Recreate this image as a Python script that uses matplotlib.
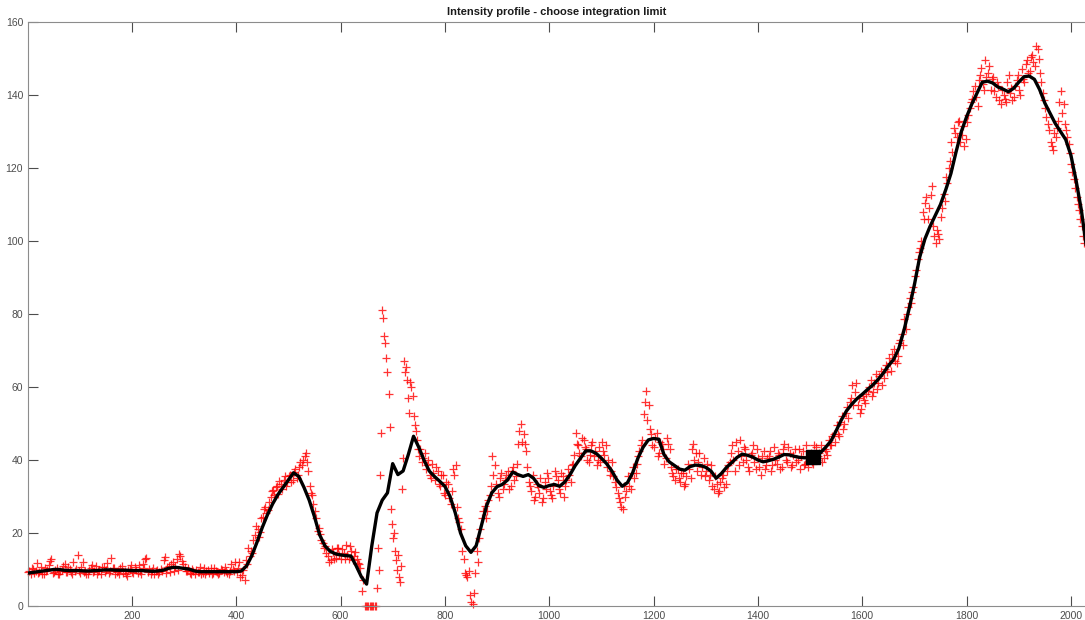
import numpy as np
import matplotlib
matplotlib.use("Agg")
import matplotlib.pyplot as plt

plt.rcParams["font.family"] = ["Liberation Sans", "DejaVu Sans"]

# Smoothed intensity profile, sampled every 10 px from x = 0
smooth_start, smooth_step = 0, 10
smooth_vals = [
    9.0, 9.2, 9.4, 9.6, 9.8, 10.0, 10.0, 9.8, 9.7, 9.7,
    9.7, 9.6, 9.6, 9.7, 9.8, 9.9, 9.9, 9.8, 9.8, 9.8,
    9.7, 9.7, 9.7, 9.6, 9.5, 9.6, 9.8, 10.3, 10.6, 10.5,
    10.3, 10.1, 9.6, 9.4, 9.4, 9.4, 9.4, 9.4, 9.4, 9.4,
    9.4, 9.6, 11.0, 13.8, 17.5, 21.5, 25.0, 28.0, 30.5, 32.5,
    34.5, 36.5, 35.5, 32.5, 29.0, 24.5, 19.5, 16.5, 15.0, 14.3,
    14.0, 13.8, 13.7, 11.0, 8.0, 6.0, 16.5, 25.5, 29.0, 31.0,
    39.0, 36.0, 37.0, 41.5, 46.5, 43.5, 40.0, 37.0, 35.5, 34.2,
    32.8, 30.0, 25.5, 20.0, 16.5, 14.7, 16.5, 22.0, 27.5, 31.0,
    32.7, 33.3, 34.5, 36.7, 36.0, 35.5, 36.0, 35.0, 33.0, 32.5,
    33.0, 33.3, 32.8, 34.0, 36.0, 38.5, 40.5, 42.5, 42.5, 41.8,
    40.5, 39.0, 37.0, 34.5, 32.8, 33.8, 36.5, 40.5, 43.5, 45.5,
    45.9, 45.7, 41.5, 39.5, 38.5, 37.5, 37.2, 38.2, 38.6, 38.5,
    38.0, 37.0, 35.0, 36.3, 38.0, 39.3, 40.7, 41.6, 41.3, 40.8,
    40.0, 39.5, 39.8, 40.2, 40.8, 41.5, 41.4, 41.0, 40.7, 40.6,
    40.7, 41.2, 42.0, 43.5, 45.2, 48.0, 51.0, 53.5, 55.3, 56.8,
    58.0, 59.3, 60.5, 62.0, 63.7, 65.8, 67.5, 70.5, 75.5, 81.5,
    88.0, 95.5, 100.5, 104.0, 107.0, 110.0, 114.0, 118.5, 124.5, 130.0,
    134.0, 137.5, 140.5, 143.5, 143.8, 143.3, 142.2, 141.6, 140.9, 141.8,
    143.5, 145.0, 145.2, 144.3, 141.5, 137.8, 135.0, 132.2, 130.0, 127.8,
    123.5, 116.5, 108.5, 98.0,
]

# Raw intensity samples, left part (x = 1, 6, ..., 666)
raw_left_start, raw_left_step = 1, 5
raw_left = [
    9.2, 8.8, 10.1, 9.5, 9.0, 10.8, 8.9, 9.6, 11.2, 12.8, 9.3, 10.5, 8.7, 9.9, 11.5, 9.4, 10.2, 8.9, 9.7, 14.0,
    9.1, 12.1, 9.6, 8.8, 10.4, 9.2, 11.0, 9.5, 8.9, 10.6, 9.8, 9.0, 13.2, 10.3, 9.4, 8.8, 10.9, 9.6, 8.3, 10.2,
    9.4, 10.8, 9.0, 9.7, 11.6, 12.9, 9.3, 8.9, 10.5, 9.6, 8.8, 10.2, 12.5, 9.1, 10.9, 11.4, 9.5, 13.0, 14.2, 12.3,
    10.6, 9.5, 9.0, 10.1, 8.8, 9.4, 10.7, 9.1, 8.9, 9.8, 10.4, 9.0, 9.6, 8.8, 10.2, 9.3, 9.7, 8.9, 11.4, 9.5,
    9.2, 12.1, 8.5, 7.2, 11.5, 13.8, 14.5, 19.5, 21.0, 20.2, 24.5, 27.0, 26.2, 29.8, 31.9, 32.5, 30.7, 33.5, 34.6, 32.8,
    35.5, 33.9, 36.8, 35.2, 38.0, 38.5, 41.2, 39.5, 33.0, 30.5, 26.0, 20.5, 19.8, 17.2, 16.5, 13.8, 12.5, 14.9, 13.2, 15.8,
    12.8, 14.5, 16.8, 13.0, 15.2, 13.6, 12.9, 11.5, 4.0, 0.0, 0.0, 0.0, 0.0, 0.0,
]

# Interleaved raw samples, left part (x = 3, 8, ..., 663)
raw_left_b_start, raw_left_b_step = 3, 5
raw_left_b = [
    9.6, 10.3, 9.0, 11.8, 9.4, 8.9, 10.5, 9.8, 12.2, 9.1, 10.0, 8.8, 9.7, 11.0, 9.3, 10.6, 9.2, 12.0, 10.1, 9.5,
    10.7, 9.3, 8.9, 10.0, 11.3, 9.7, 8.8, 9.9, 10.8, 9.2, 11.8, 9.5, 10.4, 8.9, 9.6, 10.5, 9.1, 8.7, 9.8, 11.1,
    9.0, 9.9, 11.2, 8.9, 10.3, 13.1, 10.1, 9.5, 8.8, 10.0, 9.4, 9.7, 13.4, 10.6, 9.2, 12.0, 11.0, 9.8, 13.6, 11.5,
    9.7, 10.3, 8.8, 9.5, 10.0, 9.2, 8.9, 10.5, 9.6, 9.1, 8.8, 10.3, 9.4, 9.0, 9.8, 10.6, 9.1, 9.5, 10.2, 12.0,
    10.4, 8.0, 10.0, 12.5, 16.0, 15.0, 18.0, 22.0, 19.0, 24.0, 26.5, 25.5, 28.5, 31.5, 30.5, 33.0, 34.2, 32.0, 35.5, 34.0,
    36.0, 34.5, 37.5, 36.0, 39.5, 40.0, 42.0, 37.0, 31.0, 28.0, 24.0, 21.5, 18.0, 16.0, 14.5, 12.0, 15.5, 13.0, 16.0, 14.0,
    15.5, 13.0, 14.0, 16.5, 12.5, 14.8, 11.8, 10.5, 7.0, 0.0, 0.0, 0.0, 0.0,
]

# Raw intensity samples around the bright streaks (x = 668, 670, ..., 748)
raw_mid_start, raw_mid_step = 668, 2
raw_mid = [
    0.0, 5.0, 16.0, 10.0, 36.0, 47.5, 81.0, 79.0, 74.0, 72.0,
    68.0, 64.0, 58.0, 49.0, 26.5, 22.5, 18.5, 20.0, 15.0, 12.5,
    10.0, 14.0, 8.0, 6.5, 11.0, 32.0, 40.5, 67.0, 64.0, 65.5,
    62.0, 57.0, 53.0, 61.5, 60.0, 57.5, 52.0, 49.5, 48.0, 45.5,
    43.0,
]

# Raw intensity samples, right part (x = 751, 756, ..., 2026)
raw_right_start, raw_right_step = 751, 5
raw_right = [
    41.2, 39.5, 42.0, 38.5, 36.0, 39.0, 34.5, 37.0, 33.0, 35.8, 30.5, 33.5, 28.0, 37.5, 38.5, 24.0, 21.0, 13.0, 8.5, 9.5,
    1.0, 3.5, 15.0, 18.5, 24.0, 27.5, 26.0, 30.5, 41.0, 38.5, 31.0, 35.0, 32.0, 34.5, 37.0, 33.0, 38.0, 35.5, 44.5, 50.0,
    47.0, 42.5, 34.0, 31.5, 29.0, 33.5, 31.0, 28.5, 34.0, 36.5, 31.5, 29.5, 37.0, 34.5, 31.0, 35.5, 33.0, 37.5, 34.0, 39.0,
    47.5, 44.0, 41.0, 45.5, 43.0, 39.5, 44.0, 41.0, 38.5, 43.5, 45.0, 41.5, 38.0, 36.0, 39.5, 34.0, 31.0, 28.5, 26.5, 30.0,
    35.5, 32.0, 38.0, 36.5, 41.0, 44.0, 52.5, 59.0, 55.0, 47.0, 43.5, 47.5, 42.0, 44.5, 39.0, 46.0, 43.0, 36.5, 34.5, 37.5,
    34.0, 36.5, 33.5, 39.0, 35.0, 44.5, 42.0, 39.5, 36.0, 40.5, 37.0, 34.5, 38.5, 32.0, 33.5, 31.5, 35.0, 32.5, 37.0, 39.5,
    44.0, 37.0, 42.5, 45.5, 39.5, 43.0, 38.0, 41.5, 44.0, 37.5, 40.5, 36.0, 42.5, 38.5, 41.0, 37.0, 43.5, 39.0, 41.5, 38.0,
    44.5, 39.5, 42.0, 38.5, 43.0, 40.0, 37.5, 42.5, 39.0, 38.0, 42.0, 39.0, 43.5, 41.0, 44.0, 40.5, 42.5, 45.5, 44.0, 47.0,
    49.5, 46.5, 52.0, 50.0, 54.5, 56.0, 60.5, 58.5, 55.0, 53.0, 57.5, 55.5, 59.0, 62.0, 58.5, 63.5, 61.0, 64.5, 62.5, 66.0,
    68.0, 64.5, 70.5, 66.5, 72.0, 74.5, 78.5, 80.0, 84.5, 86.0, 90.5, 95.0, 98.0, 108.0, 110.5, 106.0, 112.5, 104.0, 99.5, 102.0,
    106.5, 113.0, 117.5, 120.0, 127.0, 131.0, 128.5, 133.0, 129.0, 126.0, 132.5, 136.5, 139.0, 142.5, 137.0, 145.5, 143.0, 149.5, 146.0, 141.5,
    145.0, 139.5, 142.5, 137.5, 140.0, 138.0, 145.5, 142.0, 139.5, 144.0, 141.5, 147.0, 143.5, 149.5, 146.5, 151.0, 148.0, 152.5, 146.0, 140.5,
    136.5, 132.0, 127.0, 125.0, 128.5, 133.0, 141.0, 137.5, 130.5, 126.5, 121.0, 117.0, 112.0, 108.5, 104.0, 99.5,
]

# Interleaved raw samples, right part (x = 753, 758, ..., 2023)
raw_right_b_start, raw_right_b_step = 753, 5
raw_right_b = [
    43.0, 40.5, 37.5, 40.0, 35.0, 36.5, 38.0, 33.5, 36.0, 31.0, 34.0, 29.5, 31.5, 36.0, 27.0, 23.0, 15.0, 9.0, 8.0, 3.0,
    0.5, 9.0, 12.0, 21.0, 26.0, 24.0, 29.0, 33.0, 36.0, 33.5, 30.0, 36.5, 33.5, 36.0, 32.0, 37.0, 34.5, 39.0, 48.0, 45.0,
    44.5, 38.0, 33.0, 36.0, 30.0, 32.5, 35.0, 29.5, 32.0, 35.0, 30.5, 33.0, 35.5, 32.0, 36.5, 30.0, 34.5, 36.0, 38.5, 41.5,
    44.5, 42.0, 46.0, 43.5, 40.0, 41.5, 45.0, 42.5, 40.0, 39.5, 42.5, 44.0, 40.0, 37.0, 35.5, 32.5, 29.5, 27.0, 33.0, 31.5,
    33.0, 36.5, 35.0, 39.0, 42.5, 45.5, 56.0, 51.0, 48.5, 44.0, 46.0, 41.0, 45.0, 43.0, 40.5, 44.5, 38.0, 35.5, 37.5, 35.0,
    36.5, 33.0, 35.5, 37.5, 43.0, 40.0, 37.0, 42.0, 38.0, 35.5, 39.0, 36.0, 33.0, 35.5, 31.0, 34.0, 36.0, 33.5, 38.5, 42.0,
    40.0, 45.0, 38.5, 41.0, 43.5, 40.0, 37.0, 42.0, 39.5, 43.0, 38.0, 41.0, 37.5, 40.5, 42.5, 38.5, 40.0, 42.0, 37.5, 43.0,
    40.0, 43.5, 38.0, 41.5, 39.5, 43.0, 41.0, 38.5, 44.0, 40.5, 39.5, 44.0, 40.0, 42.0, 39.5, 43.0, 41.5, 44.0, 46.5, 45.0,
    47.0, 50.5, 48.5, 53.0, 51.5, 57.0, 55.0, 61.0, 57.0, 54.0, 56.5, 58.0, 60.0, 57.5, 61.0, 59.5, 63.0, 60.5, 65.0, 64.0,
    66.5, 69.0, 67.0, 68.5, 73.0, 71.5, 76.0, 82.0, 83.0, 87.5, 92.0, 97.0, 100.0, 106.0, 112.0, 109.0, 115.0, 101.5, 103.0, 100.5,
    109.0, 111.0, 116.0, 122.0, 124.5, 129.5, 132.5, 127.0, 131.5, 128.0, 134.5, 138.0, 141.0, 139.5, 144.0, 147.5, 141.5, 145.0, 148.0, 144.5,
    141.0, 143.5, 138.5, 141.5, 139.0, 143.5, 140.5, 138.5, 142.5, 145.5, 140.0, 144.5, 148.5, 146.0, 150.5, 149.0, 153.5, 150.0, 143.5, 138.5,
    134.0, 130.5, 126.0, 129.5, 131.0, 138.0, 135.0, 132.0, 128.5, 124.0, 119.0, 114.5, 110.0, 106.0, 101.5,
]

# Chosen integration limit
limit_x = 1506
limit_y = 40.7

x_ticks = [200, 400, 600, 800, 1000, 1200, 1400, 1600, 1800, 2000]
y_ticks = [0, 20, 40, 60, 80, 100, 120, 140, 160]
title_text = "Intensity profile - choose integration limit"


def positions(start, step, values):
    return start + step * np.arange(len(values))


segments = [
    (raw_left_start, raw_left_step, raw_left),
    (raw_left_b_start, raw_left_b_step, raw_left_b),
    (raw_mid_start, raw_mid_step, raw_mid),
    (raw_right_start, raw_right_step, raw_right),
    (raw_right_b_start, raw_right_b_step, raw_right_b),
]
raw_x = np.concatenate([positions(s, d, v) for s, d, v in segments])
raw_y = np.concatenate([v for _, _, v in segments])
smooth_x = positions(smooth_start, smooth_step, smooth_vals)

fig = plt.figure(figsize=(10.85, 6.2), dpi=100)
ax = fig.add_axes([28 / 1085, 1 - 606 / 620, 1 - 28 / 1085, (606 - 22) / 620])

ax.plot(raw_x, raw_y, linestyle="none", marker="+", color="#ff0000",
        markersize=6, markeredgewidth=0.9, alpha=0.8, clip_on=False, zorder=2)
ax.plot(smooth_x, smooth_vals, color="black", linewidth=2.4, zorder=3)
ax.plot([limit_x], [limit_y], marker="s", color="black", markersize=10,
        linestyle="none", zorder=4)

ax.set_xlim(1, 2027)
ax.set_ylim(0, 160)
ax.set_xticks(x_ticks)
ax.set_yticks(y_ticks)
ax.tick_params(axis="both", direction="in", length=7.5, width=0.8,
               colors="#4d4d4d", labelsize=7.5, top=True, right=False,
               pad=3.5)
for side in ("left", "bottom", "top"):
    ax.spines[side].set_color("#8c8c8c")
    ax.spines[side].set_linewidth(0.8)
ax.spines["right"].set_visible(False)

ax.set_title(title_text, fontsize=8, fontweight="bold", color="#1a1a1a", pad=5)

fig.savefig("out.png", dpi=100)
